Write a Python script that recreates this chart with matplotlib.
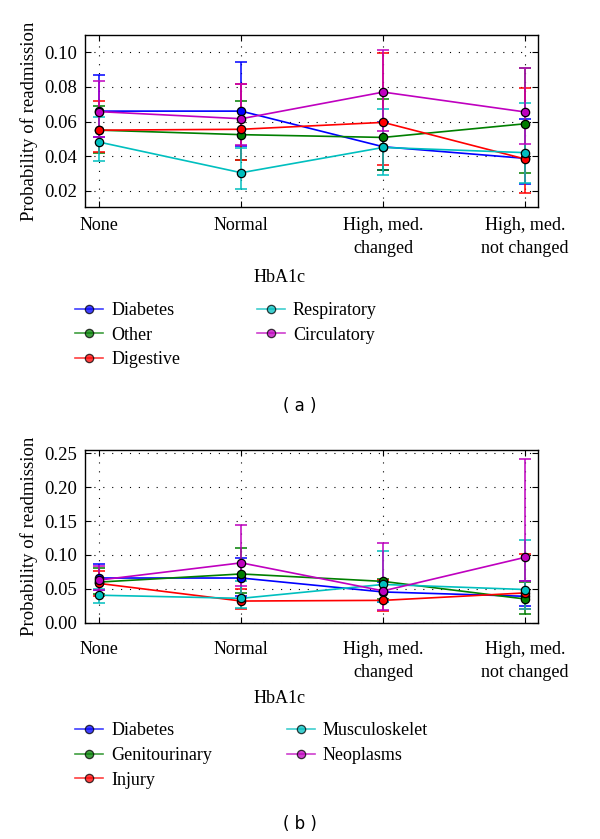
import numpy as np
import matplotlib
matplotlib.use('Agg')
import matplotlib.pyplot as plt

categories = ["None", "Normal", "High, med.\nchanged", "High, med.\nnot changed"]

# panel (a): probability, lower and upper error bar ends
labels_a = ["Diabetes", "Other", "Digestive", "Respiratory", "Circulatory"]
diab_a = [0.066, 0.066, 0.0454, 0.0387]
diab_a_lo = [0.051, 0.046, 0.032, 0.024]
diab_a_hi = [0.087, 0.0946, 0.060, 0.0614]
other_a = [0.055, 0.0524, 0.0508, 0.0587]
other_a_lo = [0.042, 0.0377, 0.032, 0.030]
other_a_hi = [0.069, 0.0719, 0.0728, 0.0911]
dig_a = [0.055, 0.0555, 0.0595, 0.0383]
dig_a_lo = [0.0422, 0.0377, 0.0348, 0.0184]
dig_a_hi = [0.0719, 0.0815, 0.0994, 0.0796]
resp_a = [0.0481, 0.0304, 0.045, 0.042]
resp_a_lo = [0.037, 0.021, 0.029, 0.0246]
resp_a_hi = [0.0628, 0.0445, 0.0674, 0.0705]
circ_a = [0.0657, 0.0616, 0.077, 0.0655]
circ_a_lo = [0.0512, 0.0464, 0.0545, 0.047]
circ_a_hi = [0.0834, 0.0815, 0.1013, 0.0907]

# panel (b)
labels_b = ["Diabetes", "Genitourinary", "Injury", "Musculoskelet", "Neoplasms"]
diab_b = [0.066, 0.066, 0.0454, 0.039]
diab_b_lo = [0.048, 0.040, 0.030, 0.024]
diab_b_hi = [0.0865, 0.095, 0.060, 0.061]
gen_b = [0.060, 0.072, 0.061, 0.035]
gen_b_lo = [0.042, 0.044, 0.035, 0.013]
gen_b_hi = [0.081, 0.1096, 0.065, 0.060]
inj_b = [0.058, 0.032, 0.033, 0.044]
inj_b_lo = [0.040, 0.020, 0.017, 0.020]
inj_b_hi = [0.077, 0.050, 0.063, 0.101]
musc_b = [0.0406, 0.036, 0.0565, 0.049]
musc_b_lo = [0.029, 0.022, 0.030, 0.020]
musc_b_hi = [0.050, 0.061, 0.106, 0.1227]
neo_b = [0.063, 0.0884, 0.047, 0.0966]
neo_b_lo = [0.049, 0.054, 0.019, 0.0613]
neo_b_hi = [0.084, 0.1444, 0.118, 0.2425]

colors = ['#0000ff', '#007f00', '#ff0000', '#00bfbf', '#bf00bf']

plt.rcParams['font.family'] = ['Liberation Serif', 'DejaVu Serif']
plt.rcParams['font.size'] = 12.5


def DrawPanel(fig, rect, series, labels, ylim, yticks, legend_y, col2_x,
              caption, caption_y, xpad, xlab_y):
    ax = fig.add_axes(rect)
    x = np.arange(len(categories))
    handles = []
    for (val, lo, hi), lab, col in zip(series, labels, colors):
        val = np.array(val)
        err = [val - np.array(lo), np.array(hi) - val]
        ax.errorbar(x, val, yerr = err, color = col, lw = 1.1, capsize = 4.5,
                    capthick = 1.1, fmt = 'none', zorder = 2)
        h, = ax.plot(x, val, color = col, lw = 1.2, marker = 'o', ms = 6,
                     mfc = col, mec = 'black', mew = 0.9, label = lab, zorder = 3)
        handles.append(h)
    ax.set_xlim(-0.1, 3.09)
    ax.set_ylim(*ylim)
    ax.set_yticks(yticks)
    ax.set_yticklabels(["%.2f" % v for v in yticks], fontsize = 13.5)
    ax.set_xticks(x)
    ax.set_xticklabels(categories, linespacing = 1.45, fontsize = 13)
    ax.tick_params(direction = 'in', top = True, right = True, length = 4)
    ax.tick_params(axis = 'x', pad = xpad)
    ax.tick_params(axis = 'y', pad = 6)
    ax.grid(True, color = 'black', linestyle = (0, (1, 7)), lw = 0.8)
    for sp in ax.spines.values():
        sp.set_linewidth(1.0)
    ax.set_ylabel("Probability of readmission", fontsize = 13.5, labelpad = 4)
    ax.set_xlabel("HbA1c", fontsize = 13)
    ax.xaxis.set_label_coords(0.43, xlab_y)

    leg_kw = dict(loc = 'upper left', frameon = False, handlelength = 1.55,
                  handletextpad = 0.45, labelspacing = 0.42, borderaxespad = 0,
                  borderpad = 0, fontsize = 13)
    leg1 = fig.legend(handles[:3], labels[:3], bbox_to_anchor = (0.125, legend_y), **leg_kw)
    leg2 = fig.legend(handles[3:], labels[3:], bbox_to_anchor = (col2_x, legend_y), **leg_kw)
    for lg in (leg1, leg2):
        for lh in lg.get_lines():
            lh.set_alpha(0.75)
    fig.text(0.5, caption_y, caption, ha = 'center', va = 'center',
             family = 'DejaVu Sans', fontsize = 12)
    return ax


fig = plt.figure(figsize = (6.0, 8.39), dpi = 100)

series_a = [(diab_a, diab_a_lo, diab_a_hi), (other_a, other_a_lo, other_a_hi),
            (dig_a, dig_a_lo, dig_a_hi), (resp_a, resp_a_lo, resp_a_hi),
            (circ_a, circ_a_lo, circ_a_hi)]
series_b = [(diab_b, diab_b_lo, diab_b_hi), (gen_b, gen_b_lo, gen_b_hi),
            (inj_b, inj_b_lo, inj_b_hi), (musc_b, musc_b_lo, musc_b_hi),
            (neo_b, neo_b_lo, neo_b_hi)]

DrawPanel(fig, [0.1417, 0.7533, 0.755, 0.205], series_a, labels_a, (0.0106, 0.110),
          [0.02, 0.04, 0.06, 0.08, 0.10], 0.640, 0.428, "( a )", 0.516, 7, -0.36)
DrawPanel(fig, [0.1417, 0.2578, 0.755, 0.2058], series_b, labels_b, (0.0, 0.255),
          [0.0, 0.05, 0.10, 0.15, 0.20, 0.25], 0.139, 0.478, "( b )", 0.018, 13, -0.39)

fig.savefig("out.png", dpi = 100)
